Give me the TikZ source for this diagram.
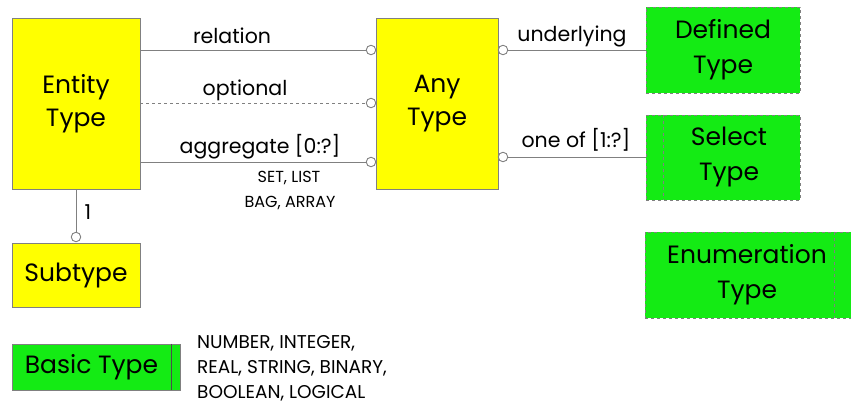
\documentclass[tikz,border=0pt]{standalone}
\usepackage{fontspec}
\setmainfont{Poppins}
\definecolor{boxyellow}{RGB}{255,255,0}
\definecolor{boxgreen}{RGB}{20,235,20}
\definecolor{edge}{RGB}{128,128,128}
\tikzset{
  ybox/.style={draw=edge, line width=0.8pt, fill=boxyellow, align=center, inner sep=0pt,
    font=\fontsize{25}{33}\selectfont},
  gbox/.style={draw=edge, dashed, line width=0.8pt, fill=boxgreen, align=center, inner sep=0pt,
    font=\fontsize{25}{35}\selectfont},
  conn/.style={draw=edge, line width=0.9pt},
  ring/.style={circle, draw=edge, line width=0.9pt, fill=white, minimum size=9.5pt, inner sep=0pt},
  lab/.style={font=\fontsize{20.5}{22}\selectfont, inner sep=0pt},
  small/.style={font=\fontsize{16}{25}\selectfont, inner sep=0pt, align=left},
  biglist/.style={font=\fontsize{18.5}{25}\selectfont, inner sep=0pt, align=left},
}
\begin{document}
\begin{tikzpicture}[x=1pt, y=-1pt]
\useasboundingbox (0,0) rectangle (851,406);

% yellow boxes
\node[ybox, minimum width=128pt, minimum height=171pt] (entity) at (76,103.5) {Entity\\Type};
\node[ybox, minimum width=122pt, minimum height=171pt] (any) at (437,103.5) {Any\\Type};
\node[ybox, minimum width=128pt, minimum height=64pt] (sub) at (76,275) {Subtype};

% green boxes
\node[gbox, minimum width=154pt, minimum height=86pt] (defined) at (723,50) {Defined\\Type};
\node[gbox, minimum width=154pt, minimum height=85pt] (select) at (723,157.5) {};
\node[align=center, font=\fontsize{25}{35}\selectfont, inner sep=0pt] (selecttxt) at (729,157.5) {Select\\Type};
\draw[edge, dashed, line width=0.8pt] ([xshift=18pt]select.north west) -- ([xshift=18pt]select.south west);

\node[gbox, minimum width=206pt, minimum height=86pt] (enum) at (748,275) {};
\node[align=center, font=\fontsize{25}{35}\selectfont, inner sep=0pt] (enumtxt) at (747,275) {Enumeration\\Type};
\draw[edge, dashed, line width=0.8pt] ([xshift=-17pt]enum.north east) -- ([xshift=-17pt]enum.south east);

\node[draw=edge, line width=0.8pt, fill=boxgreen, inner sep=0pt, minimum width=168pt, minimum height=46pt] (basic) at (96,367) {};
\node[font=\fontsize{25}{30}\selectfont, inner sep=0pt] (basictxt) at (91.5,367) {Basic Type};
\draw[black!70, line width=0.8pt] ([xshift=-9pt]basic.north east) -- ([xshift=-9pt]basic.south east);

% rings
\node[ring] (c1) at (371,50) {};
\node[ring] (c2) at (371,103) {};
\node[ring] (c3) at (371,162) {};
\node[ring] (c4) at (503,50) {};
\node[ring] (c5) at (503,157) {};
\node[ring] (c6) at (76,237) {};

% connectors
\draw[conn] (entity.east |- c1) -- (c1);
\draw[conn, dashed] (entity.east |- c2) -- (c2);
\draw[conn] (entity.east |- c3) -- (c3);
\draw[conn] (c4) -- (defined.west |- c4);
\draw[conn] (c5) -- (select.west |- c5);
\draw[conn] (entity.south) -- (c6);

% labels
\node[lab] (l1) at (232,36) {relation};
\node[lab] (l2) at (245,90) {optional};
\node[lab] (l3) at (260,147) {aggregate [0:?]};
\node[small] (l3a) at (289,178) {SET, LIST};
\node[small] (l3b) at (290,203) {BAG, ARRAY};
\node[lab] (l4) at (572,36) {underlying};
\node[lab] (l5) at (576,140) {one of [1:?]};
\node[lab] (l6) at (88,212) {1};
\node[biglist, anchor=west] (basiclist) at (197,368) {NUMBER, INTEGER,\\REAL, STRING, BINARY,\\BOOLEAN, LOGICAL};
\end{tikzpicture}
\end{document}
